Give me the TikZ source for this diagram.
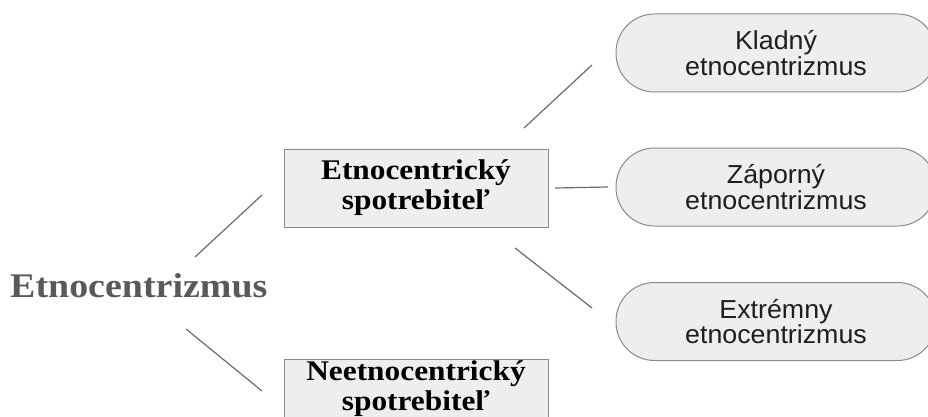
\documentclass[tikz,border=0pt]{standalone}
\usepackage{fontspec}
\setmainfont{Liberation Serif}
\newfontfamily\serifw[FakeStretch=1.1]{Liberation Serif}
\newfontfamily\sansw[FakeStretch=1.03]{Liberation Sans}
\definecolor{boxfill}{HTML}{EEEEEE}
\definecolor{boxline}{HTML}{8A8A8A}
\definecolor{connline}{HTML}{6A6A6A}
\definecolor{maintext}{HTML}{595959}
\definecolor{sanstext}{HTML}{1E1E1E}
\tikzset{
  conn/.style={draw=connline, line width=1.2pt},
  sqbox/.style={draw=boxline, fill=boxfill, line width=1pt, minimum width=264pt, minimum height=78pt, inner sep=0pt, outer sep=0pt},
  boxtext/.style={align=center, inner sep=0pt, font=\serifw\bfseries\fontsize{28.5}{30}\selectfont},
  pill/.style={draw=boxline, fill=boxfill, line width=1pt, rounded corners=38.5pt, minimum width=320pt, minimum height=78pt, inner sep=0pt, outer sep=0pt, align=center, text=sanstext, font=\sansw\fontsize{26}{22}\selectfont},
}
\begin{document}
\begin{tikzpicture}[x=1pt,y=-1pt]
\useasboundingbox (0,0) rectangle (928,417);
% main label
\node[anchor=base west, inner sep=0pt, text=maintext, font=\serifw\bfseries\fontsize{34.5}{36}\selectfont] (main) at (10,297) {Etnocentrizmus};
% boxes
\node[sqbox, boxtext] (b1) at (416,188) {Etnocentrický\\spotrebiteľ};
\node[sqbox] (b2) at (416,398) {};
\node[boxtext, anchor=north] (b2t) at (416,360) {Neetnocentrický\\spotrebiteľ};
% pills
\node[pill] (k) at (776,53) {Kladný\\etnocentrizmus};
\node[pill] (z) at (776,187) {Záporný\\etnocentrizmus};
\node[pill] (e) at (776,321.5) {Extrémny\\etnocentrizmus};
% connectors
\draw[conn] ([shift={(-89,69)}]b1.west) -- ([shift={(-22,7)}]b1.west);
\draw[conn] ([shift={(-98,-69)}]b2.west) -- ([shift={(-22,-7)}]b2.west);
\draw[conn] ([shift={(-24,-21)}]b1.north east) -- ([shift={(-24,12)}]k.west);
\draw[conn] ([shift={(7,0)}]b1.east) -- ([shift={(-8,0)}]z.west);
\draw[conn] ([shift={(-33,21)}]b1.south east) -- ([shift={(-24,-13.5)}]e.west);
\end{tikzpicture}
\end{document}
